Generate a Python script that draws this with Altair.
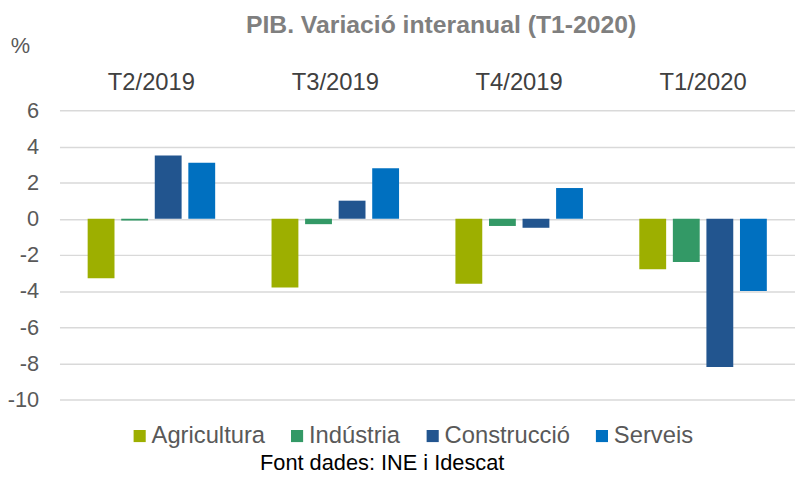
import altair as alt
import pandas as pd

quarters = ["T2/2019", "T3/2019", "T4/2019", "T1/2020"]
sectors = ["Agricultura", "Indústria", "Construcció", "Serveis"]
agricultura = [-3.3, -3.8, -3.6, -2.8]
industria = [-0.1, -0.3, -0.4, -2.4]
construccio = [3.5, 1.0, -0.5, -8.2]
serveis = [3.1, 2.8, 1.7, -4.0]
colors = ["#9DAF00", "#339966", "#22558F", "#0070C0"]

rows = []
for i, q in enumerate(quarters):
    for s, vals in zip(sectors, [agricultura, industria, construccio, serveis]):
        rows.append({"quarter": q, "sector": s, "value": vals[i]})
df = pd.DataFrame(rows)

FONT = "Liberation Sans"

bars = alt.Chart(df).mark_bar().encode(
    x=alt.X("quarter:N", sort=quarters,
            scale=alt.Scale(paddingInner=0.27, paddingOuter=0.135),
            axis=alt.Axis(orient="top", title=None, ticks=False, domain=False,
                          labelAngle=0, labelFontSize=24, labelColor="#404040",
                          labelPadding=16, labelFont=FONT)),
    xOffset=alt.XOffset("sector:N", sort=sectors,
                        scale=alt.Scale(paddingInner=0.2, paddingOuter=0.1)),
    y=alt.Y("value:Q", scale=alt.Scale(domain=[-10, 6], nice=False),
            axis=alt.Axis(values=list(range(-10, 7, 2)), title="%",
                          labelExpr="'' + datum.value",
                          titleAngle=0, titleX=-40, titleY=-65,
                          titleAlign="center", titleBaseline="middle",
                          titleFontSize=22, titleFontWeight="normal",
                          titleColor="#595959", titleFont=FONT,
                          ticks=False, domain=False, labelFontSize=22,
                          labelColor="#595959", labelPadding=21, labelFont=FONT,
                          grid=True, gridColor="#D9D9D9", gridWidth=1.5)),
    color=alt.Color("sector:N", sort=sectors,
                    scale=alt.Scale(domain=sectors, range=colors),
                    legend=alt.Legend(orient="none", legendX=69, legendY=317,
                                      direction="horizontal", columns=4,
                                      title=None, symbolType="square",
                                      symbolSize=150, symbolStrokeWidth=0,
                                      labelFontSize=24, labelColor="#595959",
                                      labelFont=FONT, columnPadding=20,
                                      labelOffset=0)),
)

source = alt.Chart(pd.DataFrame({"t": ["Font dades: INE i Idescat"]})).mark_text(
    fontSize=22, color="#000000", font=FONT, align="center", baseline="middle"
).encode(
    text="t:N",
    x=alt.value(326),
    y=alt.value(356),
)

chart = alt.layer(bars, source).properties(
    width=743,
    height=292,
    padding={"left": 52, "top": 101, "right": 0, "bottom": 76},
    autosize=alt.AutoSizeParams(type="none"),
    title=alt.TitleParams("PIB. Variació interanual (T1-2020)", fontSize=25,
                          fontWeight="bold", color="#7F7F7F", font=FONT,
                          anchor="middle", dx=14, offset=-3),
).configure_view(stroke=None)

chart.save("out.html", embed_options={"renderer": "svg", "actions": False})
